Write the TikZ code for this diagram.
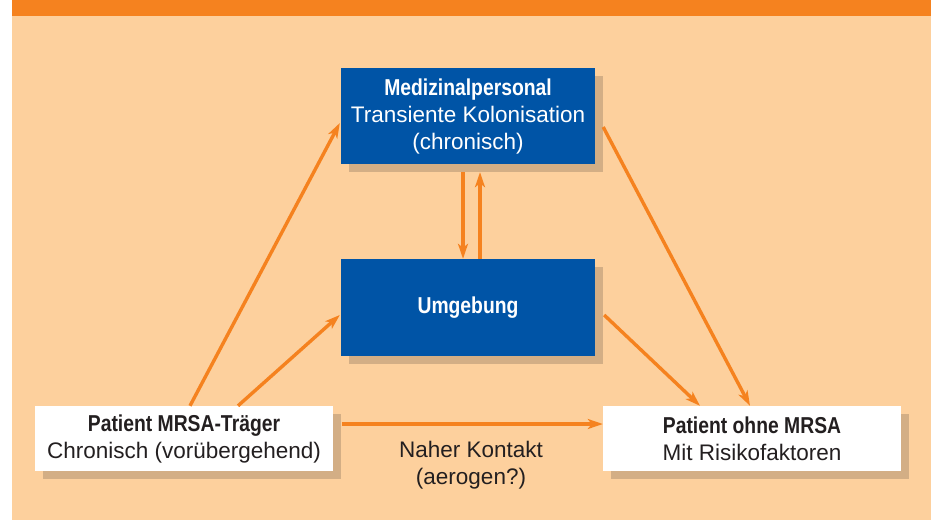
\documentclass[tikz,border=0pt]{standalone}
\usepackage{fontspec}
\setmainfont{Liberation Sans}
\newfontfamily\condbf[FakeStretch=0.84]{Liberation Sans}
\usetikzlibrary{arrows.meta,shadows}
\definecolor{orangec}{HTML}{F5821F}
\definecolor{peach}{HTML}{FDD09D}
\definecolor{shadowc}{HTML}{D3AE85}
\definecolor{bluec}{HTML}{0054A6}
\definecolor{darktext}{HTML}{231F20}
\tikzset{
  boxbase/.style={rectangle, inner sep=0pt, align=center,
    general shadow={fill=shadowc, shadow xshift=8pt, shadow yshift=-8pt},
    font=\fontsize{22.5}{27}\selectfont},
  bluebox/.style={boxbase, fill=bluec, text=white, minimum width=254pt, minimum height=96pt},
  whitebox/.style={boxbase, fill=white, text=darktext, minimum width=298pt, minimum height=65pt},
  arr/.style={draw=orangec, line width=3.4pt, -{Stealth[length=15pt,width=10pt,inset=4pt]}},
  lbl/.style={align=center, text=darktext, inner sep=0pt, font=\fontsize{22.5}{27}\selectfont}
}
\newcommand{\ttl}[1]{{\condbf\bfseries\fontsize{23}{27}\selectfont #1}}
\begin{document}
\begin{tikzpicture}[x=1pt,y=-1pt]
\useasboundingbox (0,0) rectangle (937,520);
\fill[white] (0,0) rectangle (937,520);
\fill[peach] (12,0) rectangle (931,520);
\fill[orangec] (12,0) rectangle (931,16);
\node[bluebox] (med) at (468,116) {\ttl{Medizinalpersonal}\\Transiente Kolonisation\\(chronisch)};
\node[bluebox, minimum height=97pt] (umg) at (468,307.5) {\ttl{Umgebung}};
\node[whitebox] (mrsa) at (184,438.5) {\ttl{Patient MRSA-Träger}\\Chronisch (vorübergehend)};
\node[whitebox] (ohne) at (752,438.5) {\ttl{Patient ohne MRSA}\\Mit Risikofaktoren};
\node[lbl] (kontakt) at (471,465) {Naher Kontakt\\(aerogen?)};
\draw[arr] ([xshift=6pt]mrsa.north) -- ([xshift=-1pt,yshift=-7pt]med.west);
\draw[arr] ([xshift=54pt]mrsa.north) -- ([xshift=-1pt,yshift=-7.5pt]umg.west);
\draw[arr] ([xshift=8pt,yshift=-11pt]med.east) -- ([xshift=-2pt]ohne.north);
\draw[arr] ([xshift=9pt,yshift=-7.5pt]umg.east) -- ([xshift=-52pt]ohne.north);
\draw[arr] ([xshift=-5pt,yshift=-8pt]med.south) -- ([xshift=-5pt]umg.north);
\draw[arr] ([xshift=12pt]umg.north) -- ([xshift=12pt,yshift=-8pt]med.south);
\draw[arr] ([xshift=9pt,yshift=14.5pt]mrsa.east) -- ([yshift=14.5pt]ohne.west);
\end{tikzpicture}
\end{document}
